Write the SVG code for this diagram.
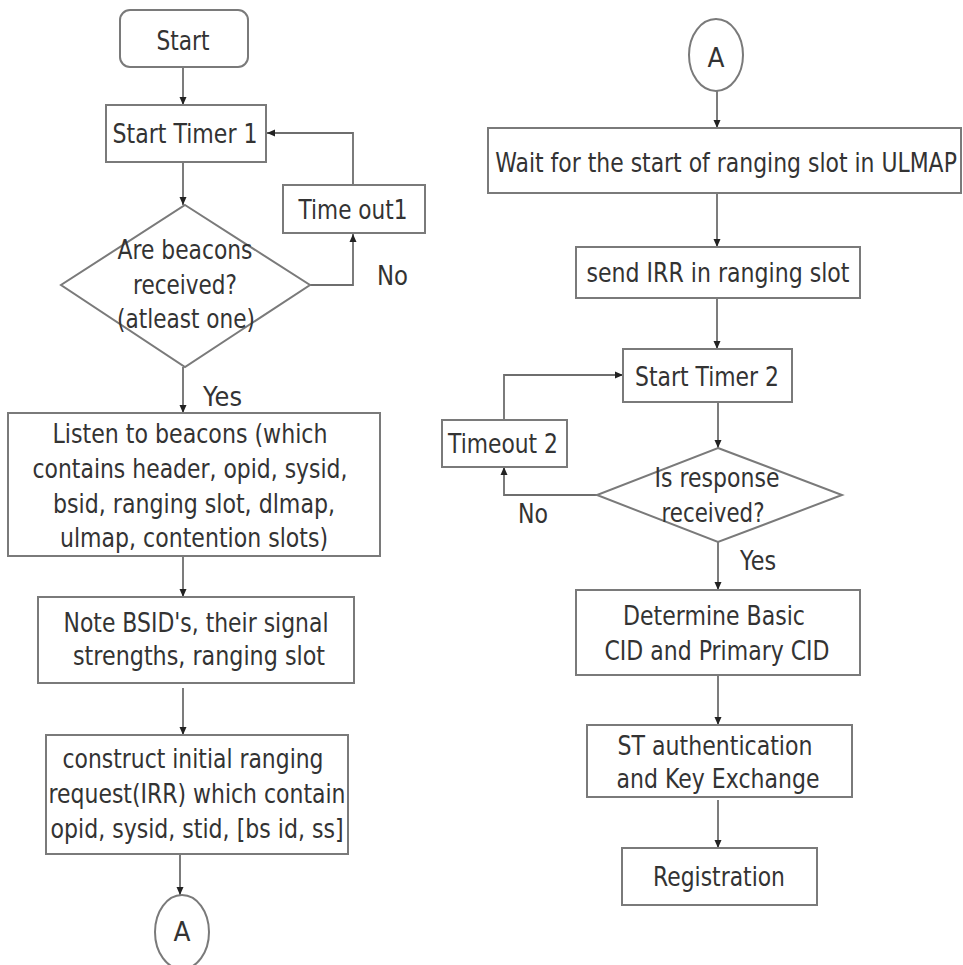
<svg xmlns="http://www.w3.org/2000/svg" width="963" height="965" viewBox="0 0 963 965">
  <style>
    .box { fill: #ffffff; stroke: #7a7a7a; stroke-width: 2; }
    .edge { fill: none; stroke: #6e6e6e; stroke-width: 1.8; marker-end: url(#arrow); }
    text { font-family: "DejaVu Sans", "Liberation Sans", sans-serif; font-size: 27px; fill: #333333; text-anchor: middle; }
    .lbl { text-anchor: start; }
  </style>
  <defs>
    <marker id="arrow" markerUnits="userSpaceOnUse" markerWidth="10" markerHeight="10" refX="9" refY="5" orient="auto">
      <path d="M1,1.5 L9,5 L1,8.5 Z" fill="#222"/>
    </marker>
  </defs>
  <rect width="963" height="965" fill="#ffffff"/>

  <!-- connectors -->
  <g id="connectors">
    <line class="edge" x1="183" y1="67" x2="183" y2="105"/>
    <line class="edge" x1="183" y1="162" x2="183" y2="205"/>
    <polyline class="edge" points="310,285 353,285 353,234"/>
    <polyline class="edge" points="353,185 353,133 267,133"/>
    <line class="edge" x1="183" y1="367" x2="183" y2="413"/>
    <line class="edge" x1="183" y1="556" x2="183" y2="597"/>
    <line class="edge" x1="183" y1="688" x2="183" y2="735"/>
    <line class="edge" x1="180" y1="854" x2="180" y2="895"/>

    <line class="edge" x1="717" y1="91" x2="717" y2="128"/>
    <line class="edge" x1="717" y1="193" x2="717" y2="247"/>
    <line class="edge" x1="717" y1="299" x2="717" y2="349"/>
    <line class="edge" x1="718" y1="402" x2="718" y2="448"/>
    <polyline class="edge" points="597,495 504,495 504,467"/>
    <polyline class="edge" points="504,420 504,375 623,375"/>
    <line class="edge" x1="718" y1="542" x2="718" y2="590"/>
    <line class="edge" x1="718" y1="675" x2="718" y2="725"/>
    <line class="edge" x1="718" y1="800" x2="718" y2="848"/>

    <text class="lbl" x="377" y="285" textLength="31" lengthAdjust="spacingAndGlyphs">No</text>
    <text class="lbl" x="203" y="406" textLength="39" lengthAdjust="spacingAndGlyphs">Yes</text>
    <text class="lbl" x="518" y="523" textLength="30" lengthAdjust="spacingAndGlyphs">No</text>
    <text class="lbl" x="740" y="570" textLength="36" lengthAdjust="spacingAndGlyphs">Yes</text>
  </g>

  <!-- left column -->
  <g id="start">
    <rect class="box" x="120" y="10" width="128" height="57" rx="10"/>
    <text x="183" y="50" textLength="53" lengthAdjust="spacingAndGlyphs">Start</text>
  </g>
  <g id="start-timer-1">
    <rect class="box" x="106" y="105" width="160" height="57"/>
    <text x="185" y="143" textLength="145" lengthAdjust="spacingAndGlyphs">Start Timer 1</text>
  </g>
  <g id="timeout-1">
    <rect class="box" x="283" y="185" width="142" height="48"/>
    <text x="353" y="219" textLength="109" lengthAdjust="spacingAndGlyphs">Time out1</text>
  </g>
  <g id="beacons-received">
    <polygon class="box" points="185,205 310,285 185,367 61,285"/>
    <text x="185" y="259" textLength="135" lengthAdjust="spacingAndGlyphs">Are beacons</text>
    <text x="185" y="294" textLength="104" lengthAdjust="spacingAndGlyphs">received?</text>
    <text x="186" y="328" textLength="138" lengthAdjust="spacingAndGlyphs">(atleast one)</text>
  </g>
  <g id="listen-beacons">
    <rect class="box" x="8" y="413" width="372" height="143"/>
    <text x="190" y="443" textLength="275" lengthAdjust="spacingAndGlyphs">Listen to beacons (which</text>
    <text x="190" y="478" textLength="315" lengthAdjust="spacingAndGlyphs">contains header, opid, sysid,</text>
    <text x="194" y="513" textLength="282" lengthAdjust="spacingAndGlyphs">bsid, ranging slot, dlmap,</text>
    <text x="194" y="547" textLength="268" lengthAdjust="spacingAndGlyphs">ulmap, contention slots)</text>
  </g>
  <g id="note-bsid">
    <rect class="box" x="38" y="597" width="316" height="86"/>
    <text x="196" y="632" textLength="265" lengthAdjust="spacingAndGlyphs">Note BSID's, their signal</text>
    <text x="199" y="665" textLength="252" lengthAdjust="spacingAndGlyphs">strengths, ranging slot</text>
  </g>
  <g id="construct-irr">
    <rect class="box" x="46" y="735" width="302" height="119"/>
    <text x="193" y="768" textLength="261" lengthAdjust="spacingAndGlyphs">construct initial ranging</text>
    <text x="197" y="803" textLength="297" lengthAdjust="spacingAndGlyphs">request(IRR) which contain</text>
    <text x="197" y="838" textLength="293" lengthAdjust="spacingAndGlyphs">opid, sysid, stid, [bs id, ss]</text>
  </g>
  <g id="connector-a-out">
    <ellipse class="box" cx="182" cy="932" rx="27" ry="37"/>
    <text x="182" y="941" textLength="17" lengthAdjust="spacingAndGlyphs">A</text>
  </g>

  <!-- right column -->
  <g id="connector-a-in">
    <ellipse class="box" cx="716" cy="55" rx="27" ry="36"/>
    <text x="716" y="67" textLength="17" lengthAdjust="spacingAndGlyphs">A</text>
  </g>
  <g id="wait-ranging-slot">
    <rect class="box" x="488" y="128" width="473" height="65"/>
    <!-- long line drawn horizontally condensed so it stays inside the box -->
    <text transform="translate(726,172) scale(0.81,1)" x="0" y="0" textLength="570" lengthAdjust="spacingAndGlyphs">Wait for the start of ranging slot in ULMAP</text>
  </g>
  <g id="send-irr">
    <rect class="box" x="576" y="247" width="284" height="51"/>
    <text x="718" y="282" textLength="263" lengthAdjust="spacingAndGlyphs">send IRR in ranging slot</text>
  </g>
  <g id="start-timer-2">
    <rect class="box" x="623" y="349" width="169" height="53"/>
    <text x="707" y="386" textLength="144" lengthAdjust="spacingAndGlyphs">Start Timer 2</text>
  </g>
  <g id="timeout-2">
    <rect class="box" x="442" y="420" width="125" height="47"/>
    <text x="503" y="453" textLength="110" lengthAdjust="spacingAndGlyphs">Timeout 2</text>
  </g>
  <g id="response-received">
    <polygon class="box" points="718,448 842,495 718,542 597,495"/>
    <text x="717" y="487" textLength="125" lengthAdjust="spacingAndGlyphs">Is response</text>
    <text x="713" y="522" textLength="103" lengthAdjust="spacingAndGlyphs">received?</text>
  </g>
  <g id="determine-cid">
    <rect class="box" x="576" y="590" width="284" height="85"/>
    <text x="714" y="625" textLength="182" lengthAdjust="spacingAndGlyphs">Determine Basic</text>
    <text x="717" y="660" textLength="225" lengthAdjust="spacingAndGlyphs">CID and Primary CID</text>
  </g>
  <g id="st-authentication">
    <rect class="box" x="587" y="725" width="265" height="72"/>
    <text x="715" y="755" textLength="195" lengthAdjust="spacingAndGlyphs">ST authentication</text>
    <text x="718" y="788" textLength="203" lengthAdjust="spacingAndGlyphs">and Key Exchange</text>
  </g>
  <g id="registration">
    <rect class="box" x="622" y="848" width="195" height="57"/>
    <text x="719" y="886" textLength="132" lengthAdjust="spacingAndGlyphs">Registration</text>
  </g>
</svg>
